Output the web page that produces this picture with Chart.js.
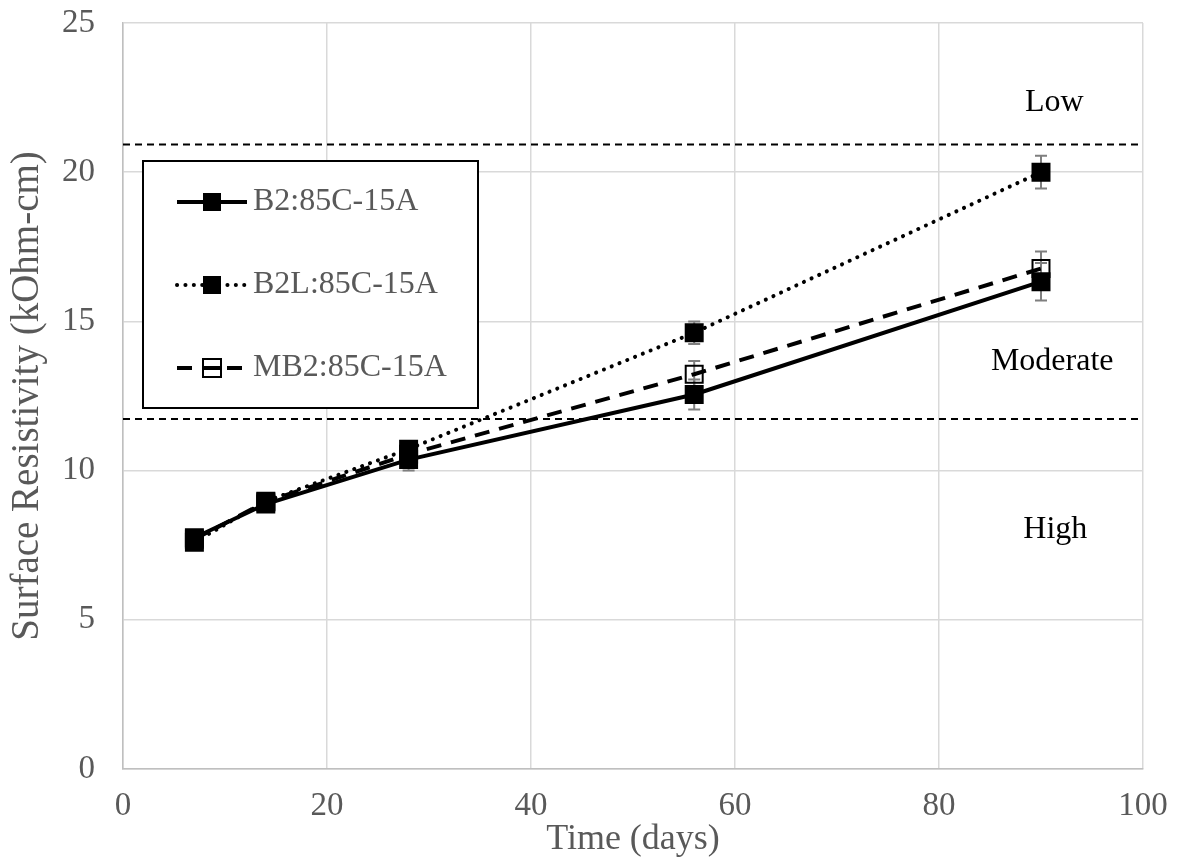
<!DOCTYPE html>
<html lang="en">
<head>
  <meta charset="UTF-8" />
  <title>Surface Resistivity</title>
  <script src="https://cdn.jsdelivr.net/npm/chart.js"></script>
  <style>
    html, body { margin: 0; padding: 0; background: #fff; }
  </style>
</head>
<body>
  <canvas id="resChart" width="1178" height="863"></canvas>

  <script>
    // data
    const days = [7, 14, 28, 56, 90];
    const b2 = [7.75, 8.88, 10.37, 12.55, 16.33];
    const b2Err = [0.15, 0.2, 0.37, 0.5, 0.63];
    const b2l = [7.6, 8.97, 10.72, 14.62, 20.0];
    const b2lErr = [0.12, 0.15, 0.2, 0.38, 0.55];
    const mb2 = [7.7, 8.95, 10.55, 13.23, 16.77];
    const mb2Err = [0.15, 0.2, 0.3, 0.44, 0.57];

    const seriesNames = ['B2:85C-15A', 'B2L:85C-15A', 'MB2:85C-15A'];
    const limits = [20.93, 11.73];           // dashed class boundaries
    const xRange = [0, 100];
    const yRange = [0, 25];
    const zoneLabels = ['Low', 'Moderate', 'High'];
    const zoneLabelX = [91.3, 91.1, 91.4];
    const zoneLabelY = [22.32, 13.64, 8.01];

    const FONT = "'Liberation Serif', 'Times New Roman', serif";
    const GREY_TEXT = '#595959';

    function pts(ys) {
      return days.map((d, i) => ({ x: d, y: ys[i] }));
    }

    const seriesStyle = [
      { dash: [], cap: 'butt', fill: '#000' },
      { dash: [0.1, 8.3], cap: 'round', fill: '#000' },
      { dash: [15, 10], cap: 'butt', fill: 'rgba(0,0,0,0)' }
    ];
    const errs = [b2Err, b2lErr, mb2Err];

    function seriesDataset(i, ys) {
      const s = seriesStyle[i];
      return {
        label: seriesNames[i],
        data: pts(ys),
        borderColor: '#000',
        borderWidth: 4,
        borderDash: s.dash,
        borderCapStyle: s.cap,
        tension: 0,
        pointStyle: 'rect',
        pointRadius: 12,
        pointHoverRadius: 12,
        pointBorderWidth: 2,
        pointBorderColor: '#000',
        pointBackgroundColor: s.fill
      };
    }

    const limitSets = limits.map(v => ({
      label: 'limit',
      data: [{ x: xRange[0], y: v }, { x: xRange[1], y: v }],
      borderColor: '#000',
      borderWidth: 2,
      borderDash: [7, 5],
      pointRadius: 0,
      order: 10
    }));

    // error bars, drawn under the markers
    const errorBars = {
      id: 'errorBars',
      beforeDatasetsDraw(chart) {
        const { ctx, scales: { x, y } } = chart;
        ctx.save();
        ctx.strokeStyle = '#7f7f7f';
        ctx.lineWidth = 2;
        [b2, b2l, mb2].forEach((ys, s) => {
          ys.forEach((v, i) => {
            const px = x.getPixelForValue(days[i]);
            const top = y.getPixelForValue(v + errs[s][i]);
            const bot = y.getPixelForValue(v - errs[s][i]);
            ctx.beginPath();
            ctx.moveTo(px, top); ctx.lineTo(px, bot);
            ctx.moveTo(px - 6, top); ctx.lineTo(px + 6, top);
            ctx.moveTo(px - 6, bot); ctx.lineTo(px + 6, bot);
            ctx.stroke();
          });
        });
        ctx.restore();
      }
    };

    // Low / Moderate / High text
    const zoneText = {
      id: 'zoneText',
      afterDatasetsDraw(chart) {
        const { ctx, scales: { x, y } } = chart;
        ctx.save();
        ctx.fillStyle = '#000';
        ctx.font = '32px ' + FONT;
        ctx.textAlign = 'center';
        ctx.textBaseline = 'middle';
        zoneLabels.forEach((t, i) => {
          ctx.fillText(t, x.getPixelForValue(zoneLabelX[i]), y.getPixelForValue(zoneLabelY[i]));
        });
        ctx.restore();
      }
    };

    // boxed legend inside the plot, top left
    const boxLegend = {
      id: 'boxLegend',
      afterDraw(chart) {
        const ctx = chart.ctx;
        const box = { left: 143, top: 161, right: 478, bottom: 408 };
        const rows = [202, 285, 368];
        ctx.save();
        ctx.fillStyle = '#fff';
        ctx.fillRect(box.left, box.top, box.right - box.left, box.bottom - box.top);
        ctx.strokeStyle = '#000';
        ctx.lineWidth = 2;
        ctx.strokeRect(box.left, box.top, box.right - box.left, box.bottom - box.top);

        seriesNames.forEach((name, i) => {
          const ry = rows[i];
          const s = seriesStyle[i];
          ctx.beginPath();
          ctx.setLineDash(s.dash);
          ctx.lineCap = s.cap;
          ctx.lineWidth = 4;
          ctx.moveTo(177, ry);
          ctx.lineTo(247, ry);
          ctx.stroke();
          ctx.setLineDash([]);
          ctx.lineCap = 'butt';
          ctx.lineWidth = 2;
          if (s.fill === '#000') {
            ctx.fillStyle = '#000';
            ctx.fillRect(203, ry - 9, 18, 18);
          } else {
            ctx.fillStyle = '#fff';
            ctx.strokeRect(203, ry - 9, 18, 18);
            ctx.beginPath();
            ctx.lineWidth = 4;
            ctx.moveTo(203, ry);
            ctx.lineTo(221, ry);
            ctx.stroke();
          }
          ctx.fillStyle = GREY_TEXT;
          ctx.font = '32px ' + FONT;
          ctx.textAlign = 'left';
          ctx.textBaseline = 'middle';
          ctx.fillText(name, 253, ry);
        });
        ctx.restore();
      }
    };

    new Chart(document.getElementById('resChart'), {
      type: 'line',
      data: {
        datasets: [
          seriesDataset(0, b2),
          seriesDataset(1, b2l),
          seriesDataset(2, mb2),
          ...limitSets
        ]
      },
      options: {
        responsive: false,
        animation: false,
        events: [],
        layout: { padding: { top: 23, right: 35, left: 0, bottom: 0 } },
        plugins: { legend: { display: false }, tooltip: { enabled: false } },
        scales: {
          x: {
            type: 'linear',
            min: xRange[0],
            max: xRange[1],
            ticks: { stepSize: 20, color: GREY_TEXT, font: { family: FONT, size: 33 }, padding: 18, maxRotation: 0 },
            grid: { color: '#d9d9d9', lineWidth: 1.5, drawTicks: false },
            border: { color: '#bfbfbf', width: 1.5 },
            title: { display: true, text: 'Time (days)', color: GREY_TEXT, font: { family: FONT, size: 36 }, padding: { top: 0, bottom: 2 } },
            afterFit(scale) { scale.height = 94; scale.paddingLeft = 0; scale.paddingRight = 0; }
          },
          y: {
            min: yRange[0],
            max: yRange[1],
            ticks: { stepSize: 5, color: GREY_TEXT, font: { family: FONT, size: 33 }, padding: 28 },
            grid: { color: '#d9d9d9', lineWidth: 1.5, drawTicks: false },
            border: { color: '#bfbfbf', width: 1.5 },
            title: { display: true, text: 'Surface Resistivity (kOhm-cm)', color: GREY_TEXT, font: { family: FONT, size: 39 }, padding: { top: 4, bottom: 0 } },
            afterFit(scale) { scale.width = 123; scale.paddingTop = 0; scale.paddingBottom = 0; }
          }
        }
      },
      plugins: [errorBars, zoneText, boxLegend]
    });
  </script>
</body>
</html>
